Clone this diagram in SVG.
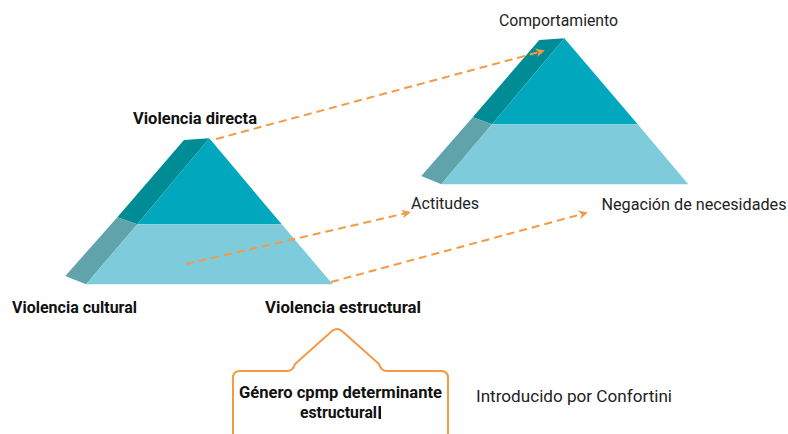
<svg xmlns="http://www.w3.org/2000/svg" width="788" height="434" viewBox="0 0 788 434">
<defs>
<style>
.t{font-family:Roboto,"Liberation Sans",sans-serif;font-size:16px;fill:#222}
.b{font-family:Roboto,"Liberation Sans",sans-serif;font-size:16.5px;font-weight:bold;fill:#111}
.dside{fill:#008C95}
.lside{fill:#61A3AB}
.dfront{fill:#00A7BD}
.lfront{fill:#7ECBDB}
.arr{stroke:#F39A44;stroke-width:2;stroke-dasharray:8 5;fill:none}
</style>
<marker id="ah" viewBox="0 0 10 10" refX="8" refY="5" markerWidth="9" markerHeight="9" markerUnits="userSpaceOnUse" orient="auto">
<path d="M0,0 L10,5 L0,10 L3,5 Z" fill="#F39A44"/>
</marker>
</defs>
<rect width="788" height="434" fill="#fff"/>
<g id="pyramid-left">
<polygon class="dside" points="184,140 209.3,138.3 137.3,224.3 117.3,217.3"/>
<polygon class="lside" points="117.3,217.3 137.3,224.3 86,284.3 65.3,276"/>
<polygon class="dfront" points="209.3,138.3 281.7,224.3 137.3,224.3"/>
<polygon class="lfront" points="137.3,224.3 281.7,224.3 332.7,284.3 86,284.3"/>
</g>
<g id="pyramid-right">
<polygon class="dside" points="539.3,40 564.3,38.3 492,124.3 472.7,117.3"/>
<polygon class="lside" points="472.7,117.3 492,124.3 441.3,184.3 421.3,176"/>
<polygon class="dfront" points="564.3,38.3 637.7,124.3 492,124.3"/>
<polygon class="lfront" points="492,124.3 637.7,124.3 688.3,184.3 441.3,184.3"/>
</g>
<g id="connectors">
<line class="arr" x1="216" y1="139" x2="543" y2="51" marker-end="url(#ah)"/>
<line class="arr" x1="186" y1="264" x2="409" y2="212.5" marker-end="url(#ah)"/>
<line class="arr" x1="331" y1="282" x2="586" y2="213" marker-end="url(#ah)"/>
</g>
<g id="label-comportamiento"><text class="t" x="499" y="26" textLength="119" lengthAdjust="spacingAndGlyphs">Comportamiento</text></g>
<g id="label-directa"><text class="b" x="133" y="124" textLength="124" lengthAdjust="spacingAndGlyphs">Violencia directa</text></g>
<g id="label-actitudes"><text class="t" x="411" y="209" textLength="68" lengthAdjust="spacingAndGlyphs">Actitudes</text></g>
<g id="label-negacion"><text class="t" x="601.5" y="210" textLength="185" lengthAdjust="spacingAndGlyphs">Negación de necesidades</text></g>
<g id="label-cultural"><text class="b" x="12" y="313" textLength="125" lengthAdjust="spacingAndGlyphs">Violencia cultural</text></g>
<g id="label-estructural"><text class="b" x="265" y="313" textLength="156" lengthAdjust="spacingAndGlyphs">Violencia estructural</text></g>
<g id="callout">
<path d="M233,434 L233,378 Q233,371 240,371 L287,371 Q293,371 295,364 L332,331 Q337,327 342,331 L379,364 Q381,371 387,371 L441,371 Q448,371 448,378 L448,434" fill="none" stroke="#F39A44" stroke-width="2"/>
<text class="b" x="239" y="398" textLength="203" lengthAdjust="spacingAndGlyphs">Género cpmp determinante</text>
<text class="b" x="300" y="418" textLength="77" lengthAdjust="spacingAndGlyphs">estructural</text>
<rect x="378.5" y="406" width="2.5" height="13" fill="#111"/>
</g>
<g id="label-introducido"><text class="t" x="476" y="402" textLength="196" lengthAdjust="spacingAndGlyphs">Introducido por Confortini</text></g>
</svg>
